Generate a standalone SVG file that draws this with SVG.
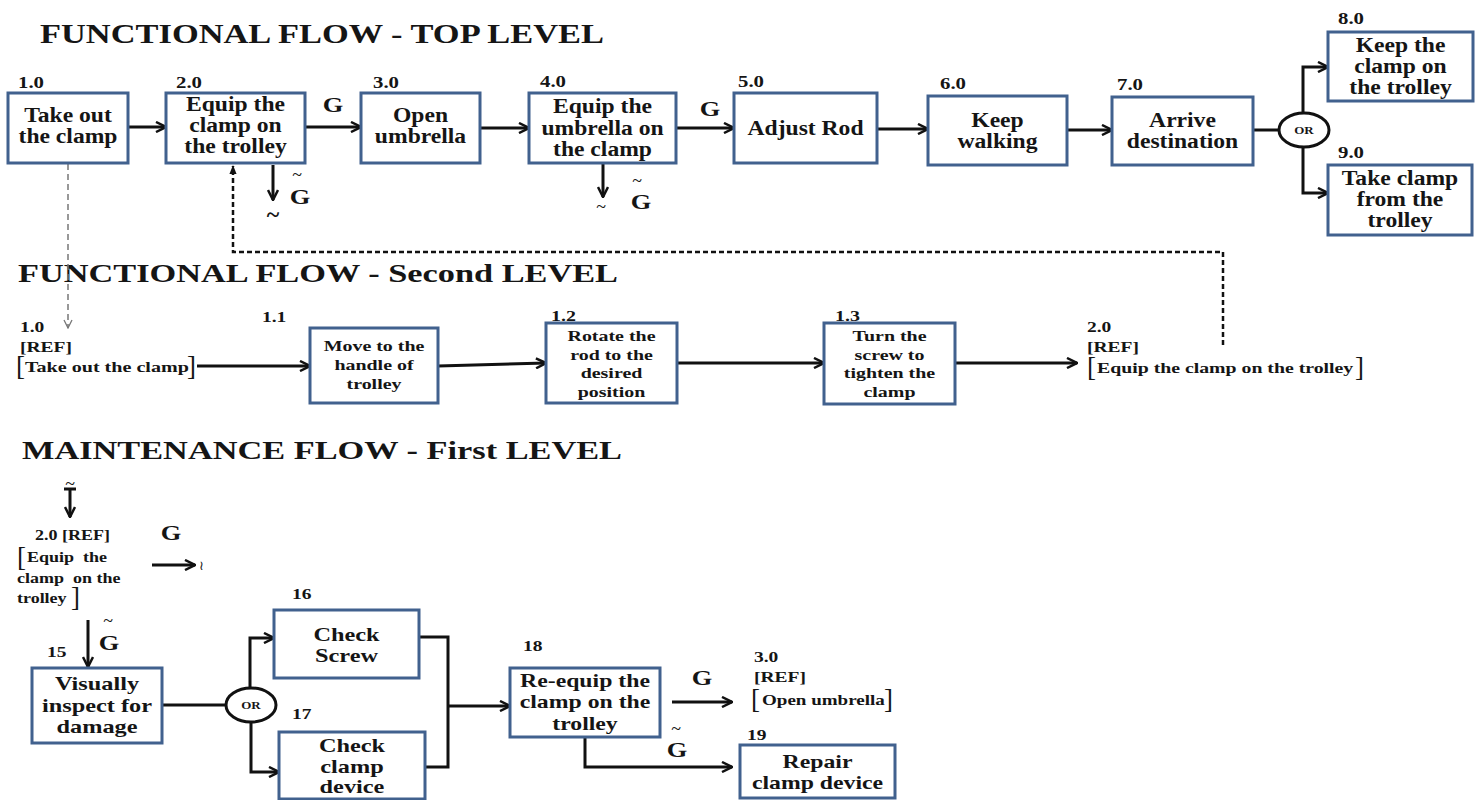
<svg xmlns="http://www.w3.org/2000/svg" width="1478" height="800" viewBox="0 0 1478 800">
<style>
.box{fill:#fff;stroke:#41618e;stroke-width:3}
.t{font-family:"Liberation Serif","Times New Roman",serif;font-weight:bold;fill:#151515}
.r{font-family:"Liberation Serif","Times New Roman",serif;font-weight:normal;fill:#151515}
.br{font-family:"Liberation Serif","Times New Roman",serif;font-weight:normal;fill:#151515;font-size:27px}
.f20{font-size:20px}
.f19{font-size:19px}
.f15{font-size:15px}
.f16{font-size:16px}
.f22{font-size:22px}
.ln{fill:none;stroke:#111;stroke-width:3}
.ar{marker-end:url(#ah)}
.orc{fill:#fff;stroke:#111;stroke-width:3}
</style>
<defs>
<marker id="ah" viewBox="0 0 12 12" refX="11" refY="6" markerWidth="12" markerHeight="12" markerUnits="userSpaceOnUse" orient="auto"><path d="M1,1 L11,6 L1,11" fill="none" stroke="#111" stroke-width="2.5"/></marker>
<marker id="ahg" viewBox="0 0 10 10" refX="9" refY="5" markerWidth="10" markerHeight="10" markerUnits="userSpaceOnUse" orient="auto"><path d="M1,1 L9,5 L1,9" fill="none" stroke="#777" stroke-width="1.3"/></marker>
<marker id="ahf" viewBox="0 0 10 10" refX="9" refY="5" markerWidth="9" markerHeight="9" markerUnits="userSpaceOnUse" orient="auto"><path d="M0,1 L10,5 L0,9 Z" fill="#111"/></marker>
</defs>
<rect width="1478" height="800" fill="#fff"/>

<!-- Titles -->
<text class="t" font-size="27" x="40" y="43" textLength="564" lengthAdjust="spacingAndGlyphs">FUNCTIONAL FLOW - TOP LEVEL</text>
<text class="t" font-size="25" x="18" y="282" textLength="600" lengthAdjust="spacingAndGlyphs">FUNCTIONAL FLOW - Second LEVEL</text>
<text class="t" font-size="25" x="22" y="459" textLength="600" lengthAdjust="spacingAndGlyphs">MAINTENANCE FLOW - First LEVEL</text>

<!-- Connectors -->
<g id="connectors">
<line class="ln ar" x1="128" y1="127" x2="166" y2="127"/>
<line class="ln ar" x1="305" y1="127" x2="361" y2="127"/>
<line class="ln ar" x1="480" y1="128" x2="529" y2="128"/>
<line class="ln ar" x1="676" y1="128" x2="734" y2="128"/>
<line class="ln ar" x1="877" y1="129" x2="928" y2="129"/>
<line class="ln ar" x1="1067" y1="130" x2="1112" y2="130"/>
<line class="ln" x1="1253" y1="130" x2="1278" y2="130"/>
<path class="ln ar" d="M1303,113 V67 H1328"/>
<path class="ln ar" d="M1303,148 V193 H1328"/>
<line class="ln ar" x1="273" y1="165" x2="273" y2="200"/>
<line class="ln ar" x1="603" y1="164" x2="603" y2="197"/>
<line x1="68" y1="164" x2="68" y2="328" stroke="#777" stroke-width="1.5" stroke-dasharray="6,4" marker-end="url(#ahg)"/>
<path d="M1223,345 V252 H233 V166" fill="none" stroke="#111" stroke-width="2.5" stroke-dasharray="5,3" marker-end="url(#ahf)"/>

<line class="ln ar" x1="197" y1="366" x2="310" y2="366"/>
<line class="ln ar" x1="438" y1="366" x2="546" y2="363"/>
<line class="ln ar" x1="677" y1="363" x2="824" y2="363"/>
<line class="ln ar" x1="955" y1="363" x2="1077" y2="363"/>

<line class="ln" x1="64" y1="489" x2="76" y2="489" stroke-width="2"/>
<line class="ln ar" x1="70" y1="489" x2="70" y2="517"/>
<line class="ln ar" x1="152" y1="565" x2="195" y2="565"/>
<line class="ln ar" x1="88" y1="620" x2="88" y2="667"/>
<line class="ln" x1="162" y1="705" x2="226" y2="705"/>
<path class="ln ar" d="M250,688 V638 H274"/>
<path class="ln ar" d="M251,722 V772 H279"/>
<path class="ln" d="M419,637 H448 V767 H425"/>
<line class="ln ar" x1="448" y1="706" x2="510" y2="706"/>
<line class="ln ar" x1="672" y1="702" x2="732" y2="702"/>
<path class="ln ar" d="M585,737 V767 H732"/>
</g>

<!-- Top level nodes -->
<g id="n1">
<text class="t f16" transform="matrix(1.3 0 0 1 18 0)" x="0" y="88">1.0</text>
<rect class="box" x="8" y="93" width="120" height="70"/>
<text class="t f20" transform="matrix(1.18 0 0 1 68 0)" text-anchor="middle"><tspan x="0" y="122">Take out</tspan><tspan x="0" y="143">the clamp</tspan></text>
</g>
<g id="n2">
<text class="t f16" transform="matrix(1.3 0 0 1 176 0)" x="0" y="88">2.0</text>
<rect class="box" x="166" y="93" width="139" height="70"/>
<text class="t f20" transform="matrix(1.18 0 0 1 235.5 0)" text-anchor="middle"><tspan x="0" y="111">Equip the</tspan><tspan x="0" y="132">clamp on</tspan><tspan x="0" y="153">the trolley</tspan></text>
</g>
<g id="n3">
<text class="t f16" transform="matrix(1.3 0 0 1 373 0)" x="0" y="88">3.0</text>
<rect class="box" x="361" y="93" width="119" height="70"/>
<text class="t f20" transform="matrix(1.18 0 0 1 420.5 0)" text-anchor="middle"><tspan x="0" y="122">Open</tspan><tspan x="0" y="143">umbrella</tspan></text>
</g>
<g id="n4">
<text class="t f16" transform="matrix(1.3 0 0 1 540 0)" x="0" y="87">4.0</text>
<rect class="box" x="529" y="93" width="147" height="70"/>
<text class="t f20" transform="matrix(1.18 0 0 1 602.5 0)" text-anchor="middle"><tspan x="0" y="113">Equip the</tspan><tspan x="0" y="135">umbrella on</tspan><tspan x="0" y="156">the clamp</tspan></text>
</g>
<g id="n5">
<text class="t f16" transform="matrix(1.3 0 0 1 738 0)" x="0" y="87">5.0</text>
<rect class="box" x="734" y="93" width="143" height="70"/>
<text class="t f20" transform="matrix(1.18 0 0 1 805.5 0)" text-anchor="middle" x="0" y="135">Adjust Rod</text>
</g>
<g id="n6">
<text class="t f16" transform="matrix(1.3 0 0 1 940 0)" x="0" y="89">6.0</text>
<rect class="box" x="928" y="96" width="139" height="69"/>
<text class="t f20" transform="matrix(1.18 0 0 1 997.5 0)" text-anchor="middle"><tspan x="0" y="127">Keep</tspan><tspan x="0" y="148">walking</tspan></text>
</g>
<g id="n7">
<text class="t f16" transform="matrix(1.3 0 0 1 1117 0)" x="0" y="90">7.0</text>
<rect class="box" x="1112" y="97" width="141" height="68"/>
<text class="t f20" transform="matrix(1.18 0 0 1 1182.5 0)" text-anchor="middle"><tspan x="0" y="127">Arrive</tspan><tspan x="0" y="148">destination</tspan></text>
</g>
<g id="or1">
<ellipse class="orc" cx="1304" cy="130" rx="25" ry="17"/>
<text class="t" font-size="10" transform="matrix(1.3 0 0 1 1304 0)" text-anchor="middle" x="0" y="134">OR</text>
</g>
<g id="n8">
<text class="t f16" transform="matrix(1.3 0 0 1 1338 0)" x="0" y="24">8.0</text>
<rect class="box" x="1328" y="32" width="145" height="69"/>
<text class="t f20" transform="matrix(1.18 0 0 1 1400.5 0)" text-anchor="middle"><tspan x="0" y="52">Keep the</tspan><tspan x="0" y="73">clamp on</tspan><tspan x="0" y="94">the trolley</tspan></text>
</g>
<g id="n9">
<text class="t f16" transform="matrix(1.3 0 0 1 1338 0)" x="0" y="158">9.0</text>
<rect class="box" x="1328" y="165" width="144" height="70"/>
<text class="t f20" transform="matrix(1.18 0 0 1 1400 0)" text-anchor="middle"><tspan x="0" y="185">Take clamp</tspan><tspan x="0" y="206">from the</tspan><tspan x="0" y="227">trolley</tspan></text>
</g>

<!-- Top level G labels -->
<g id="glabels-top">
<text class="t f22" transform="matrix(1.2 0 0 1 333 0)" text-anchor="middle" x="0" y="112">G</text>
<text class="t f22" transform="matrix(1.2 0 0 1 710 0)" text-anchor="middle" x="0" y="116">G</text>
<text class="r" font-size="18" x="297" y="181" text-anchor="middle">~</text>
<text class="t f22" transform="matrix(1.2 0 0 1 300 0)" text-anchor="middle" x="0" y="204">G</text>
<text class="t" font-size="24" x="273" y="222" text-anchor="middle">~</text>
<text class="r" font-size="18" x="637" y="187" text-anchor="middle">~</text>
<text class="t f22" transform="matrix(1.2 0 0 1 641 0)" text-anchor="middle" x="0" y="209">G</text>
<text class="r" font-size="18" x="601" y="213" text-anchor="middle">~</text>
</g>

<!-- Second level -->
<g id="ref10">
<text class="t f15" transform="matrix(1.3 0 0 1 20 0)" x="0" y="332">1.0</text>
<text class="t f15" transform="matrix(1.3 0 0 1 20 0)" x="0" y="352">[REF]</text>
<text class="br" x="16" y="375">[</text>
<text class="t f15" transform="matrix(1.34 0 0 1 25 0)" x="0" y="372">Take out the clamp</text>
<text class="br" x="187" y="375">]</text>
</g>
<g id="n11">
<text class="t f15" transform="matrix(1.3 0 0 1 262 0)" x="0" y="322">1.1</text>
<rect class="box" x="310" y="328" width="128" height="75"/>
<text class="t f15" transform="matrix(1.33 0 0 1 374 0)" text-anchor="middle"><tspan x="0" y="351">Move to the</tspan><tspan x="0" y="370">handle  of</tspan><tspan x="0" y="389">trolley</tspan></text>
</g>
<g id="n12">
<text class="t f15" transform="matrix(1.33 0 0 1 551 0)" x="0" y="321">1.2</text>
<rect class="box" x="546" y="323" width="131" height="80"/>
<text class="t f15" transform="matrix(1.33 0 0 1 611.5 0)" text-anchor="middle"><tspan x="0" y="341">Rotate the</tspan><tspan x="0" y="360">rod  to the</tspan><tspan x="0" y="378">desired</tspan><tspan x="0" y="397">position</tspan></text>
</g>
<g id="n13">
<text class="t f15" transform="matrix(1.33 0 0 1 835 0)" x="0" y="321">1.3</text>
<rect class="box" x="824" y="323" width="131" height="81"/>
<text class="t f15" transform="matrix(1.33 0 0 1 889.5 0)" text-anchor="middle"><tspan x="0" y="341">Turn  the</tspan><tspan x="0" y="360">screw to</tspan><tspan x="0" y="378">tighten  the</tspan><tspan x="0" y="397">clamp</tspan></text>
</g>
<g id="ref20">
<text class="t f15" transform="matrix(1.3 0 0 1 1087 0)" x="0" y="332">2.0</text>
<text class="t f15" transform="matrix(1.3 0 0 1 1087 0)" x="0" y="352">[REF]</text>
<text class="br" x="1087" y="376">[</text>
<text class="t f15" transform="matrix(1.32 0 0 1 1097 0)" x="0" y="373">Equip the clamp on the trolley</text>
<text class="br" x="1355" y="376">]</text>
</g>

<!-- Maintenance -->
<g id="mref20">
<text class="r" font-size="18" x="70" y="490" text-anchor="middle">~</text>
<text class="t f15" transform="matrix(1.2 0 0 1 35 0)" x="0" y="540">2.0 [REF]</text>
<text class="br" x="17" y="566">[</text>
<text class="t f15" transform="matrix(1.2 0 0 1 27 0)" x="0" y="562" xml:space="preserve">Equip  the</text>
<text class="t f15" transform="matrix(1.2 0 0 1 17 0)" x="0" y="583" xml:space="preserve">clamp  on the</text>
<text class="t f15" transform="matrix(1.2 0 0 1 17 0)" x="0" y="603">trolley</text>
<text class="br" x="71" y="606">]</text>
<text class="t f22" transform="matrix(1.2 0 0 1 171 0)" text-anchor="middle" x="0" y="540">G</text>
<text class="r" font-size="13" x="199" y="570">≀</text>
<text class="r" font-size="18" x="108" y="627" text-anchor="middle">~</text>
<text class="t f22" transform="matrix(1.2 0 0 1 109 0)" text-anchor="middle" x="0" y="650">G</text>
</g>
<g id="n15">
<text class="t f15" transform="matrix(1.3 0 0 1 47 0)" x="0" y="657">15</text>
<rect class="box" x="32" y="668" width="130" height="75"/>
<text class="t f19" transform="matrix(1.28 0 0 1 97 0)" text-anchor="middle"><tspan x="0" y="690">Visually</tspan><tspan x="0" y="712">inspect for</tspan><tspan x="0" y="733">damage</tspan></text>
</g>
<g id="or2">
<ellipse class="orc" cx="251" cy="705" rx="25" ry="17"/>
<text class="t" font-size="10" transform="matrix(1.3 0 0 1 251 0)" text-anchor="middle" x="0" y="709">OR</text>
</g>
<g id="n16">
<text class="t f15" transform="matrix(1.3 0 0 1 292 0)" x="0" y="599">16</text>
<rect class="box" x="274" y="610" width="145" height="68"/>
<text class="t f19" transform="matrix(1.28 0 0 1 346.5 0)" text-anchor="middle"><tspan x="0" y="641">Check</tspan><tspan x="0" y="662">Screw</tspan></text>
</g>
<g id="n17">
<text class="t f15" transform="matrix(1.3 0 0 1 292 0)" x="0" y="719">17</text>
<rect class="box" x="279" y="732" width="146" height="67"/>
<text class="t f19" transform="matrix(1.28 0 0 1 352 0)" text-anchor="middle"><tspan x="0" y="752">Check</tspan><tspan x="0" y="773">clamp</tspan><tspan x="0" y="793">device</tspan></text>
</g>
<g id="n18">
<text class="t f15" transform="matrix(1.3 0 0 1 523 0)" x="0" y="651">18</text>
<rect class="box" x="510" y="668" width="150" height="69"/>
<text class="t f19" transform="matrix(1.25 0 0 1 585 0)" text-anchor="middle"><tspan x="0" y="687">Re-equip the</tspan><tspan x="0" y="708">clamp on the</tspan><tspan x="0" y="730">trolley</tspan></text>
</g>
<g id="ref30">
<text class="t f22" transform="matrix(1.2 0 0 1 702 0)" text-anchor="middle" x="0" y="685">G</text>
<text class="t f15" transform="matrix(1.3 0 0 1 754 0)" x="0" y="662">3.0</text>
<text class="t f15" transform="matrix(1.3 0 0 1 754 0)" x="0" y="682">[REF]</text>
<text class="br" x="751" y="708">[</text>
<text class="t f15" transform="matrix(1.27 0 0 1 762 0)" x="0" y="705">Open umbrella</text>
<text class="br" x="884" y="708">]</text>
<text class="r" font-size="18" x="676" y="735" text-anchor="middle">~</text>
<text class="t f22" transform="matrix(1.2 0 0 1 677 0)" text-anchor="middle" x="0" y="757">G</text>
</g>
<g id="n19">
<text class="t f15" transform="matrix(1.3 0 0 1 747 0)" x="0" y="740">19</text>
<rect class="box" x="740" y="745" width="155" height="53"/>
<text class="t f19" transform="matrix(1.25 0 0 1 817.5 0)" text-anchor="middle"><tspan x="0" y="768">Repair</tspan><tspan x="0" y="789">clamp device</tspan></text>
</g>
</svg>
